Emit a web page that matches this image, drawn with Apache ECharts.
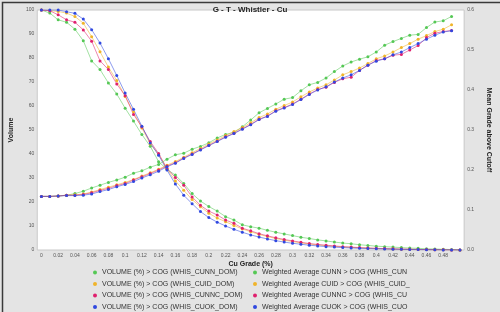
<!DOCTYPE html>
<html>
<head>
<meta charset="utf-8">
<script src="https://cdn.jsdelivr.net/npm/echarts@6/dist/echarts.min.js"></script>
<style>html,body{margin:0;padding:0;background:#e4e4e4;}#c{width:500px;height:312px;}</style>
</head>
<body>
<div id="c"></div>
<script>
var categories = [];
for (var k = 0; k <= 50; k++) { categories.push(String(+(k / 100).toFixed(2))); }

var volCUNN  = [100,98.7,95.9,94.9,92.0,87.2,78.8,75.2,69.6,65.0,59.1,53.7,48.1,43.2,36.8,33.6,31.2,27.7,23.5,20.4,18.1,16.2,13.9,12.5,10.5,9.7,9.1,8.2,7.4,6.7,6.0,5.3,4.8,4.2,3.8,3.3,2.9,2.6,2.2,1.9,1.6,1.4,1.2,1.0,0.8,0.7,0.5,0.4,0.3,0.2,0];
var volCUID  = [100,99.7,99.4,98.7,97.3,94.5,88.9,82.6,76.2,70.6,64.0,57.5,50.8,44.2,39.8,33.8,28.8,24.9,21.0,18.0,15.3,13.3,11.8,10.2,8.8,7.6,6.5,5.6,4.8,4.1,3.5,3.0,2.5,2.1,1.8,1.5,1.3,1.1,0.9,0.75,0.62,0.5,0.42,0.34,0.27,0.21,0.16,0.11,0.07,0.03,0];
var volCUNNC = [100,99.7,98.0,95.9,94.9,91.7,87.0,78.8,75.2,69.2,64.3,56.5,51.3,45.2,40.2,34.0,30.2,27.0,22.1,18.6,16.2,14.6,12.5,11.1,9.1,8.0,6.8,5.9,5.1,4.4,3.8,3.2,2.7,2.3,2.0,1.7,1.4,1.2,1.0,0.85,0.7,0.58,0.48,0.38,0.3,0.23,0.17,0.12,0.07,0.03,0];
var volCUOK  = [100,100,100,99.3,98.6,96.2,91.8,86.2,79.7,72.7,65.4,58.6,51.6,44.6,39.5,33.3,27.5,22.8,19.3,16.0,13.5,11.6,10.0,8.6,7.4,6.3,5.4,4.6,3.9,3.3,2.8,2.4,2.0,1.7,1.4,1.2,1.0,0.85,0.7,0.6,0.5,0.42,0.35,0.28,0.22,0.17,0.12,0.08,0.05,0.02,0];

var grdCUNN  = [0.134,0.134,0.135,0.137,0.141,0.147,0.155,0.162,0.169,0.175,0.182,0.192,0.198,0.207,0.214,0.227,0.238,0.242,0.252,0.259,0.268,0.280,0.289,0.294,0.308,0.325,0.343,0.354,0.365,0.377,0.381,0.398,0.413,0.419,0.430,0.446,0.460,0.470,0.477,0.483,0.495,0.512,0.521,0.529,0.537,0.539,0.556,0.570,0.573,0.584,null];
var grdCUID  = [0.134,0.134,0.135,0.137,0.138,0.140,0.145,0.151,0.157,0.163,0.169,0.176,0.185,0.193,0.202,0.212,0.221,0.232,0.243,0.254,0.265,0.275,0.286,0.296,0.306,0.318,0.331,0.340,0.352,0.361,0.370,0.383,0.395,0.405,0.413,0.425,0.438,0.446,0.455,0.466,0.478,0.485,0.495,0.506,0.516,0.527,0.536,0.546,0.552,0.563,null];
var grdCUNNC = [0.134,0.134,0.135,0.137,0.137,0.139,0.143,0.149,0.154,0.161,0.166,0.175,0.183,0.191,0.200,0.210,0.218,0.230,0.240,0.251,0.262,0.272,0.283,0.292,0.303,0.314,0.327,0.335,0.348,0.356,0.365,0.377,0.390,0.401,0.407,0.419,0.428,0.432,0.449,0.462,0.474,0.478,0.487,0.489,0.500,0.511,0.531,0.542,0.546,0.549,null];
var grdCUOK  = [0.134,0.134,0.135,0.136,0.136,0.137,0.140,0.146,0.151,0.158,0.164,0.171,0.180,0.188,0.197,0.208,0.217,0.229,0.239,0.250,0.261,0.271,0.282,0.291,0.302,0.313,0.326,0.334,0.347,0.355,0.364,0.376,0.389,0.400,0.408,0.420,0.430,0.438,0.449,0.462,0.472,0.478,0.488,0.495,0.506,0.516,0.527,0.537,0.545,0.548,null];

var volNames = ['VOLUME (%) > COG (WHIS_CUNN_DOM)','VOLUME (%) > COG (WHIS_CUID_DOM)','VOLUME (%) > COG (WHIS_CUNNC_DOM)','VOLUME (%) > COG (WHIS_CUOK_DOM)'];
var grdNames = ['Weighted Average CUNN > COG (WHIS_CUNN_DOM)','Weighted Average CUID > COG (WHIS_CUID_DOM)','Weighted Average CUNNC > COG (WHIS_CUNNC_DOM)','Weighted Average CUOK > COG (WHIS_CUOK_DOM)'];
var colors = ['#55c855','#f0b42a','#e0206e','#3048e0'];
var volData = [volCUNN, volCUID, volCUNNC, volCUOK];
var grdData = [grdCUNN, grdCUID, grdCUNNC, grdCUOK];

var series = [];
function mk(name, data, color, yIdx) {
  return {
    name: name, type: 'line', data: data, yAxisIndex: yIdx,
    symbol: 'circle', symbolSize: 3, showSymbol: true,
    itemStyle: { color: color },
    lineStyle: { color: color, width: 1, opacity: 0.55 },
    emphasis: { disabled: true }, animation: false
  };
}
for (var i = 0; i < 4; i++) series.push(mk(volNames[i], volData[i], colors[i], 0));
for (var j = 0; j < 4; j++) series.push(mk(grdNames[j], grdData[j], colors[j], 1));

var chart = echarts.init(document.getElementById('c'));
var ff = 'Liberation Sans, Arial, sans-serif';
chart.setOption({
  backgroundColor: '#e4e4e4',
  animation: false,
  title: { text: 'G - T - Whistler - Cu', left: 'center', top: 1,
    textStyle: { fontSize: 8, fontWeight: 'bold', color: '#222', fontFamily: ff } },
  grid: { left: 18, right: 16, top: 10, bottom: 62, show: true, backgroundColor: '#ffffff', borderColor: '#c8c8c8', borderWidth: 1 },
  legend: [
    { data: volNames, orient: 'vertical', left: 93, top: 268, height: 60, itemWidth: 4, itemHeight: 4, itemGap: 2.5, icon: 'circle', padding: 0,
      textStyle: { fontSize: 7, color: '#333', fontFamily: ff, lineHeight: 9 } },
    { data: grdNames, orient: 'vertical', left: 253, top: 268, height: 60, itemWidth: 4, itemHeight: 4, itemGap: 2.5, icon: 'circle', padding: 0,
      textStyle: { fontSize: 7, color: '#333', fontFamily: ff, lineHeight: 9, width: 150, overflow: 'truncate', ellipsis: '' } }
  ],
  xAxis: {
    type: 'category', data: categories, boundaryGap: true,
    name: 'Cu Grade (%)', nameLocation: 'middle', nameGap: 11, nameMoveOverlap: false,
    nameTextStyle: { fontSize: 7, fontWeight: 'bold', color: '#222', fontFamily: ff },
    axisLine: { show: false }, axisTick: { show: false },
    axisLabel: { fontSize: 5, color: '#555', margin: 3, fontFamily: ff,
      interval: function (idx) { return idx % 2 === 0 && idx < 50; } },
    splitLine: { show: false }
  },
  yAxis: [
    { type: 'value', min: 0, max: 100, interval: 10,
      name: 'Volume', nameLocation: 'middle', nameGap: 9,
      nameTextStyle: { fontSize: 7, fontWeight: 'bold', color: '#222', fontFamily: ff },
      axisLine: { show: false }, axisTick: { show: false }, splitLine: { show: false },
      axisLabel: { fontSize: 5, color: '#555', margin: 3, fontFamily: ff } },
    { type: 'value', min: 0, max: 0.6, interval: 0.1, position: 'right',
      name: 'Mean Grade above Cutoff', nameLocation: 'middle', nameGap: 12, nameRotate: -90,
      nameTextStyle: { fontSize: 7, fontWeight: 'bold', color: '#222', fontFamily: ff },
      axisLine: { show: false }, axisTick: { show: false }, splitLine: { show: false },
      axisLabel: { fontSize: 5, color: '#555', margin: 3, fontFamily: ff,
        formatter: function (v) { return v.toFixed(1); } } }
  ],
  graphic: [{ type: 'rect', left: 0, top: 0, shape: { x: 0.5, y: 0.5, width: 499, height: 311 },
    style: { fill: 'none', stroke: '#3a3a3a', lineWidth: 1.5 }, silent: true }],
  series: series
});
</script>
</body>
</html>
